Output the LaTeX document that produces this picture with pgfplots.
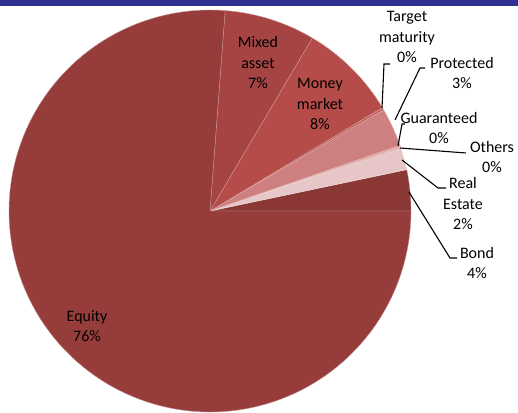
\documentclass[border=0pt]{standalone}
\usepackage{pgfplots}
\pgfplotsset{compat=1.18}
\usepackage{fontspec}
\setmainfont{Carlito}
\definecolor{navy}{RGB}{46,49,146}
\definecolor{cEquity}{RGB}{150,61,59}
\definecolor{cMixed}{RGB}{165,68,66}
\definecolor{cMoney}{RGB}{181,76,73}
\definecolor{cTarget}{RGB}{192,100,98}
\definecolor{cProt}{RGB}{206,128,128}
\definecolor{cGuar}{RGB}{220,160,160}
\definecolor{cOther}{RGB}{226,180,180}
\definecolor{cReal}{RGB}{230,198,198}
\definecolor{cBond}{RGB}{139,55,54}

\begin{document}
\begin{tikzpicture}
\begin{axis}[width=518pt,height=412pt,scale only axis,hide axis,
  xmin=0,xmax=518,ymin=0,ymax=412,y dir=reverse,clip=false]
 % header strip
 \addplot[fill=navy,draw=none] coordinates {(0,0) (518,0) (518,5.5) (0,5.5)} -- cycle;
 % slices, counter-clockwise from 3 o'clock (percent/colour)
 \xdef\cum{0}
 \foreach \v/\c in {3.3/cBond,1.7/cReal,0.15/cOther,0.15/cGuar,3.1/cProt,
                    0.2/cTarget,7.9/cMoney,7.3/cMixed,76.2/cEquity}{
   \pgfmathsetmacro\a{\cum*3.6}
   \pgfmathsetmacro\b{(\cum+\v)*3.6}
   \pgfmathsetmacro\n{\cum+\v}
   \edef\temp{\noexpand\addplot[fill=\c,draw=white!45!\c,line width=0.4pt,
     domain=\a:\b,samples=120,smooth]
     ({210+201*cos(x)},{211-201*sin(x)}) -- (axis cs:210,211) -- cycle;}
   \temp
   \xdef\cum{\n}
 }
 % leader lines
 \addplot[black,line width=1.1pt] coordinates {(382,108) (384,64) (390,64)};
 \addplot[black,line width=1.1pt] coordinates {(395,120) (420,68) (425,68)};
 \addplot[black,line width=1.1pt] coordinates {(398,146) (402,124) (405,124)};
 \addplot[black,line width=1.1pt] coordinates {(400,148) (466,153)};
 \addplot[black,line width=1.1pt] coordinates {(402,160) (438,188) (446,188)};
 \addplot[black,line width=1.1pt] coordinates {(409,192) (450,258) (457,258)};
 % labels
 \tikzset{lab/.style={align=center,font=\fontsize{16}{20.5}\selectfont,inner sep=0pt}}
 \node[lab] at (axis cs:87,326) {Equity\\76\%};
 \node[lab] at (axis cs:258,63) {Mixed\\asset\\7\%};
 \node[lab] at (axis cs:320,104) {Money\\market\\8\%};
 \node[lab] at (axis cs:407,37) {Target\\maturity\\0\%};
 \node[lab] at (axis cs:462,73) {Protected\\3\%};
 \node[lab] at (axis cs:439,128) {Guaranteed\\0\%};
 \node[lab] at (axis cs:492,157) {Others\\0\%};
 \node[lab] at (axis cs:463,204) {Real\\Estate\\2\%};
 \node[lab] at (axis cs:477,263) {Bond\\4\%};
\end{axis}
\end{tikzpicture}
\end{document}
